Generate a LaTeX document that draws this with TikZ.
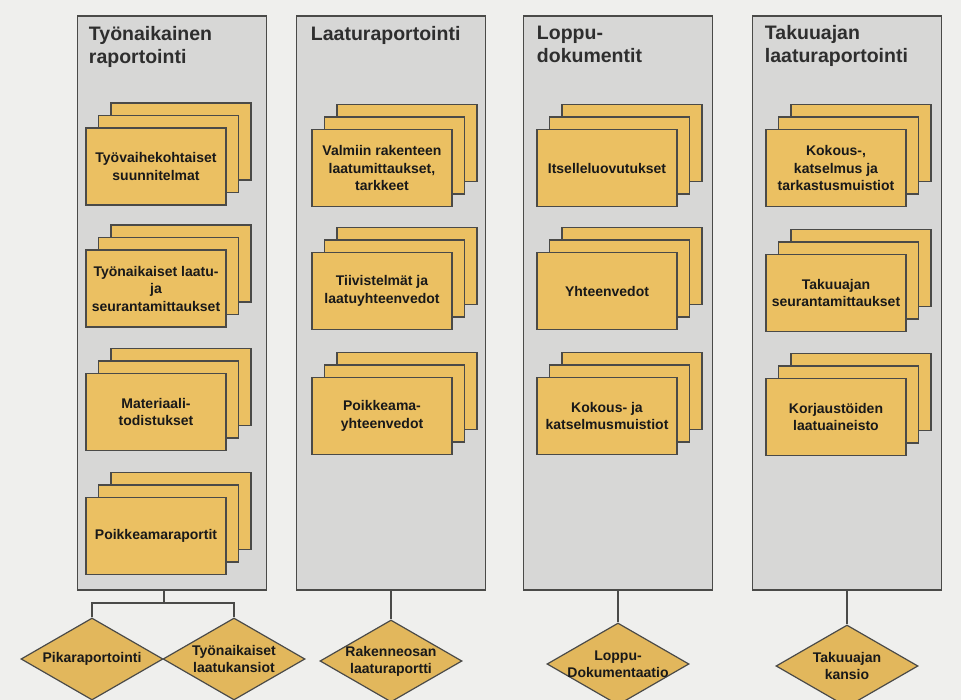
\documentclass[tikz,border=0pt]{standalone}
\usepackage{fontspec}
\setmainfont{Liberation Sans}
\usetikzlibrary{shapes.geometric,shadows,positioning}

\definecolor{paperi}{HTML}{EFEFED}
\definecolor{harmaa}{HTML}{D7D7D6}
\definecolor{keltainen}{HTML}{EBC062}
\definecolor{kansioväri}{HTML}{E2B75C}
\definecolor{reuna}{HTML}{4A4A48}

\tikzset{
  sarake/.style={draw=reuna, fill=harmaa, line width=1.5pt, inner sep=0pt,
    minimum width=189pt, minimum height=574pt},
  otsikko/.style={inner sep=0pt, align=left, text=black!82,
    font=\bfseries\fontsize{19.5}{22.5}\selectfont},
  kortti/.style={draw=reuna, fill=keltainen, line width=1.1pt, align=center,
    minimum width=140pt, minimum height=77pt, text=black!90,
    font=\bfseries\fontsize{14}{17.5}\selectfont,
    general shadow={shadow xshift=25pt, shadow yshift=25pt, fill=keltainen, draw=reuna, line width=1.1pt},
    general shadow={shadow xshift=12.5pt, shadow yshift=12.5pt, fill=keltainen, draw=reuna, line width=1.1pt}},
  kansio/.style={diamond, draw=reuna, fill=kansioväri, line width=1.2pt, inner sep=0pt,
    minimum width=142pt, minimum height=82pt},
  kansionimi/.style={align=center, inner sep=0pt, text=black!90,
    font=\bfseries\fontsize{14}{17}\selectfont},
  viiva/.style={draw=reuna, line width=1.6pt}
}

\begin{document}
\begin{tikzpicture}[x=1pt, y=-1pt]
    \useasboundingbox (0,0) rectangle (961,700);
    \clip (0,0) rectangle (961,700);
    \fill[paperi] (0,0) rectangle (961,700);

    % Sarakkeet
    \node[sarake] (p1) at (172,303) {};
    \node[sarake] (p2) at (391,303) {};
    \node[sarake] (p3) at (618,303) {};
    \node[sarake] (p4) at (847,303) {};

    \node[otsikko, below right=11pt and 12pt of p1.north west] (o1) {Työnaikainen\\raportointi};
    \node[otsikko, below right=11pt and 15pt of p2.north west] (o2) {Laaturaportointi};
    \node[otsikko, below right=11pt and 14pt of p3.north west] (o3) {Loppu-\\dokumentit};
    \node[otsikko, below right=10pt and 13pt of p4.north west] (o4) {Takuuajan\\laaturaportointi};

    % Työnaikainen raportointi
    \node[kortti] (k11) at (156,166.5) {Työvaihekohtaiset\\suunnitelmat};
    \node[kortti] (k12) at (156,288.5) {Työnaikaiset laatu-\\ja\\seurantamittaukset};
    \node[kortti] (k13) at (156,412) {Materiaali-\\todistukset};
    \node[kortti] (k14) at (156,536) {Poikkeamaraportit};

    % Laaturaportointi
    \node[kortti] (k21) at (382,168) {Valmiin rakenteen\\laatumittaukset,\\tarkkeet};
    \node[kortti] (k22) at (382,291) {Tiivistelmät ja\\laatuyhteenvedot};
    \node[kortti] (k23) at (382,416) {Poikkeama-\\yhteenvedot};

    % Loppudokumentit
    \node[kortti] (k31) at (607,168) {Itselleluovutukset};
    \node[kortti] (k32) at (607,291) {Yhteenvedot};
    \node[kortti] (k33) at (607,416) {Kokous- ja\\katselmusmuistiot};

    % Takuuajan laaturaportointi
    \node[kortti] (k41) at (836,168) {Kokous-,\\katselmus ja\\tarkastusmuistiot};
    \node[kortti] (k42) at (836,293) {Takuuajan\\seurantamittaukset};
    \node[kortti] (k43) at (836,417) {Korjaustöiden\\laatuaineisto};

    % Kansiot
    \node[kansio] (d1) at (92,659) {};
    \node[kansio] (d2) at (234,659) {};
    \node[kansio] (d3) at (391,661) {};
    \node[kansio] (d4) at (618,664) {};
    \node[kansio] (d5) at (847,666) {};

    \node[kansionimi] (n1) at (d1) {Pikaraportointi};
    \node[kansionimi] (n2) at (d2) {Työnaikaiset\\laatukansiot};
    \node[kansionimi] (n3) at (d3) {Rakenneosan\\laaturaportti};
    \node[kansionimi] (n4) at (d4) {Loppu-\\Dokumentaatio};
    \node[kansionimi] (n5) at (d5) {Takuuajan\\kansio};

    % Yhdysviivat
    \coordinate (haara) at (164,603);
    \draw[viiva] (haara |- p1.south) -- (haara);
    \draw[viiva] (d1.north) |- (haara) -| (d2.north);
    \draw[viiva] (p2.south) -- (d3.north);
    \draw[viiva] (p3.south) -- (d4.north);
    \draw[viiva] (p4.south) -- (d5.north);
\end{tikzpicture}
\end{document}
